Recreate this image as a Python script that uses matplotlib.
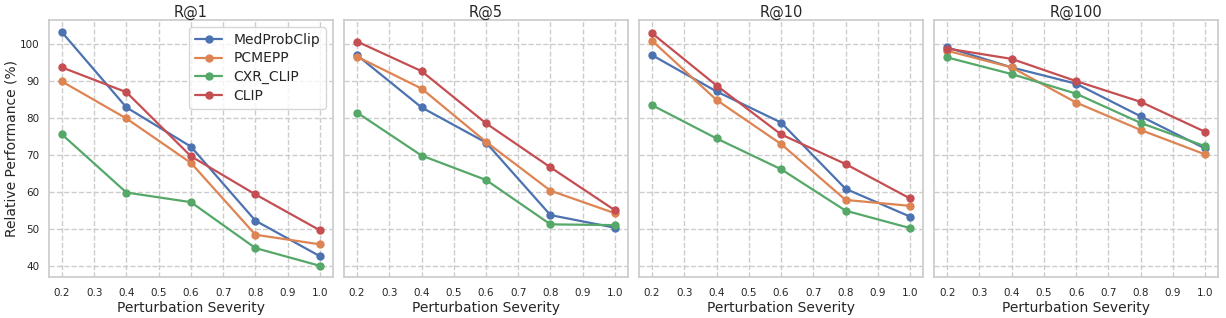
import numpy as np
import matplotlib
matplotlib.use('Agg')
import matplotlib.pyplot as plt
import seaborn as sns

sns.set_theme(style="whitegrid")
plt.rcParams['font.family'] = ['DejaVu Sans']
plt.rcParams['grid.linestyle'] = '--'

severity = [0.2, 0.4, 0.6, 0.8, 1.0]
methods = ['MedProbClip', 'PCMEPP', 'CXR_CLIP', 'CLIP']
metrics = ['R@1', 'R@5', 'R@10', 'R@100']

# relative performance (%) per metric, one row per method
r1 = [[103.2, 82.9, 72.3, 52.3, 42.7],
      [89.9, 79.9, 67.9, 48.5, 45.9],
      [75.6, 59.9, 57.3, 44.9, 40.1],
      [93.7, 87.0, 69.7, 59.4, 49.7]]
r5 = [[97.0, 82.9, 73.4, 53.8, 50.4],
      [96.6, 88.0, 73.6, 60.4, 54.3],
      [81.5, 69.9, 63.3, 51.3, 51.1],
      [100.7, 92.7, 78.6, 66.7, 55.1]]
r10 = [[97.0, 87.2, 78.8, 60.9, 53.4],
       [100.9, 84.9, 73.0, 57.9, 56.3],
       [83.5, 74.5, 66.2, 55.0, 50.3],
       [102.9, 88.8, 75.6, 67.6, 58.3]]
r100 = [[99.1, 93.7, 89.3, 80.5, 71.8],
        [98.2, 93.7, 84.2, 76.8, 70.2],
        [96.4, 91.9, 86.6, 78.7, 72.4],
        [98.8, 96.0, 90.0, 84.4, 76.3]]
all_data = [r1, r5, r10, r100]

colors = sns.color_palette("deep")

fig, axes = plt.subplots(1, 4, figsize=(12.26, 3.18), dpi=100, sharey=True)
fig.subplots_adjust(left=0.04, right=0.9935, top=0.937, bottom=0.128, wspace=0.04)

for ax, name, data in zip(axes, metrics, all_data):
    for i, m in enumerate(methods):
        ax.plot(severity, data[i], marker='o', markersize=5, linewidth=1.6,
                color=colors[i], label=m)
    ax.set_title(name, fontsize=10.5, pad=2.5)
    ax.set_xlabel('Perturbation Severity', fontsize=10, labelpad=2)
    ax.set_xticks(np.arange(0.2, 1.01, 0.1))
    ax.set_xticklabels(['%.1f' % v for v in np.arange(0.2, 1.01, 0.1)])
    ax.tick_params(axis='x', labelsize=7.5, pad=2)
    ax.tick_params(axis='y', labelsize=7.5, pad=1)
    ax.set_ylim(37, 106.5)
    ax.set_yticks([40, 50, 60, 70, 80, 90, 100])
    for s in ax.spines.values():
        s.set_color('#cccccc')

axes[0].set_ylabel('Relative Performance (%)', fontsize=10, labelpad=1)
axes[0].legend(loc='upper right', fontsize=10, frameon=True, labelspacing=0.35)

fig.savefig('out.png', dpi=100)
